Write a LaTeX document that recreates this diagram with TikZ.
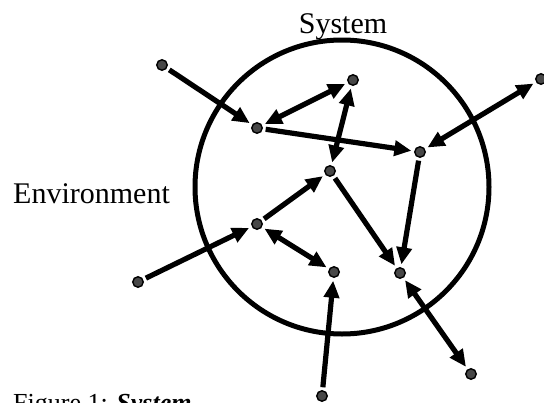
\documentclass[tikz,border=0pt]{standalone}
\usepackage{fontspec}
\setmainfont{Liberation Serif}
\usetikzlibrary{arrows.meta}

\begin{document}
\begin{tikzpicture}[
		x=1pt, y=-1pt,
		every node/.style={align=center},
		dot/.style={circle, draw=black, fill=black!72, line width=1.4pt, inner sep=0pt, minimum size=10.5pt, outer sep=3.5pt},
		link/.style={line width=5.2pt, -{Triangle[length=17pt,width=15pt]}},
		both/.style={line width=5.2pt, {Triangle[length=17pt,width=15pt]}-{Triangle[length=17pt,width=15pt]}},
		bigtext/.style={font=\fontsize{30}{32}\selectfont}
		]
		
		\useasboundingbox (0,0) rectangle (544,402);
		
		% System boundary
		\draw[line width=5pt] (342,187) circle (147pt);
		
		% Labels
		\node[bigtext, anchor=base] (sys) at (343,33) {System};
		\node[bigtext, anchor=base west, inner sep=0pt] (env) at (13,203) {Environment};
		\node[anchor=base west, inner sep=0pt, font=\fontsize{26}{28}\selectfont] (fig) at (13,411) {Figure 1: \textbf{\textit{System}}};
		
		% Elements inside the system
		\node[dot] (s1) at (257,128) {};
		\node[dot] (s2) at (353,80) {};
		\node[dot] (s3) at (420,152) {};
		\node[dot] (s4) at (330,171) {};
		\node[dot] (s5) at (257,224) {};
		\node[dot] (s6) at (334,272) {};
		\node[dot] (s7) at (400,273) {};
		
		% Elements in the environment
		\node[dot] (e1) at (162,65) {};
		\node[dot] (e2) at (541,79) {};
		\node[dot] (e3) at (138,282) {};
		\node[dot] (e4) at (322,396) {};
		\node[dot] (e5) at (471,374) {};
		
		% Interactions
		\draw[link] (e1) -- (s1);
		\draw[both] (s1) -- (s2);
		\draw[link] (s1) -- (s3);
		\draw[both] (s2) -- (s4);
		\draw[both] (e2) -- (s3);
		\draw[link] (s3) -- (s7);
		\draw[link] (s4) -- (s7);
		\draw[link] (s5) -- (s4);
		\draw[link] (e3) -- (s5);
		\draw[both] (s5) -- (s6);
		\draw[link] (e4) -- (s6);
		\draw[both] (s7) -- (e5);
		
	\end{tikzpicture}
\end{document}
